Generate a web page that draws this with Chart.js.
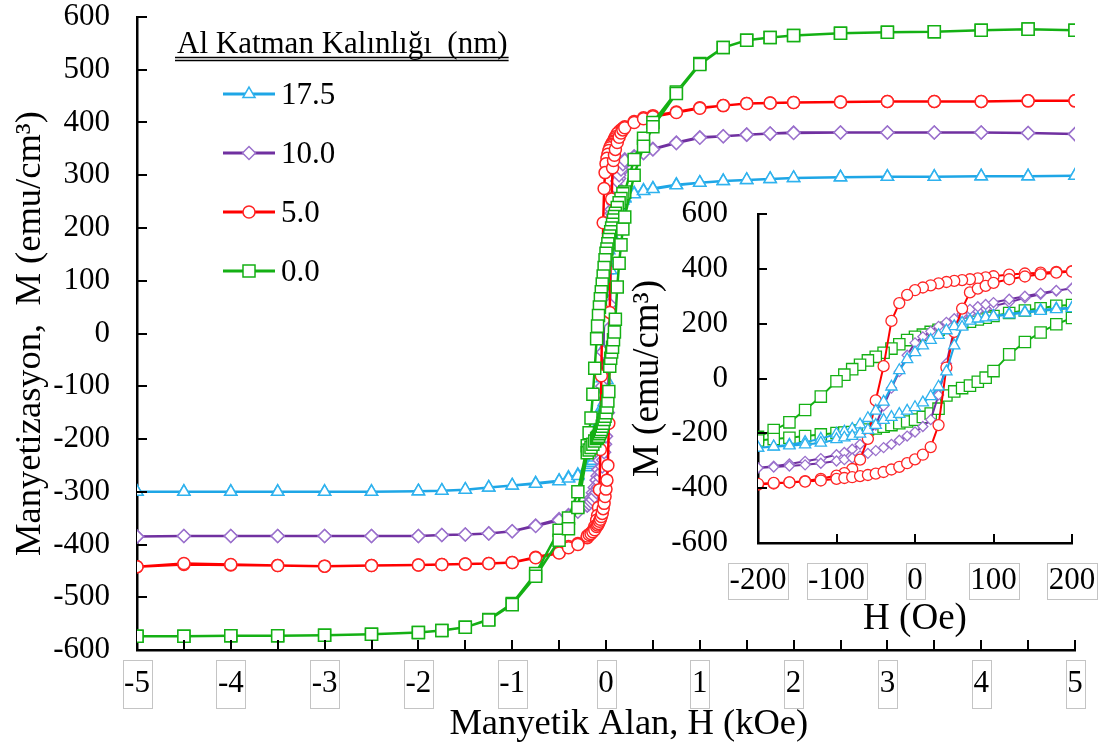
<!DOCTYPE html>
<html>
<head>
    <title>Manyetizasyon - Al Katman Kalınlığı</title>
    <meta charset="UTF-8">
    <script src="https://cdn.jsdelivr.net/npm/chart.js@4.4.1/dist/chart.umd.min.js"></script>
    <style>
        html, body { margin: 0; padding: 0; background: #fff; }
        #wrap { position: relative; width: 1100px; height: 752px; }
        #mainChart { position: absolute; left: 0; top: 0; }
        #insetChart { position: absolute; left: 620px; top: 195px; }
    </style>
</head>
<body>
<div id="wrap">
    <canvas id="mainChart" width="1100" height="752"></canvas>
    <canvas id="insetChart" width="480" height="450"></canvas>
</div>

<script>
    // legend labels (Al layer thickness, nm)
    const seriesNames = ['17.5', '10.0', '5.0', '0.0'];
    const legendTitle = 'Al Katman Kalınlığı  (nm)';

    // main loop, field in kOe (outside the +-0.2 kOe zone shown in the inset)
    const hOuter = [5, 4.5, 4, 3.5, 3, 2.5, 2, 1.75, 1.5, 1.25, 1, 0.75, 0.5, 0.4, 0.3,
        -0.3, -0.4, -0.5, -0.75, -1, -1.25, -1.5, -1.75, -2, -2.5, -3, -3.5, -4, -4.5, -5];

    const outerDesc17 = [299, 298, 298, 297, 297, 296, 295, 293, 291, 289, 286, 282, 275, 271, 266,
        -268, -273, -279, -284, -288, -292, -296, -298, -299, -300, -300, -300, -300, -300, -300];
    const outerAsc17 = [299, 298, 298, 297, 297, 296, 295, 293, 291, 289, 286, 281, 274, 270, 264,
        -270, -275, -280, -285, -288, -292, -296, -298, -299, -300, -300, -300, -300, -300, -300];

    const outerDesc10 = [378, 380, 381, 381, 381, 381, 381, 379, 377, 374, 372, 362, 350, 343, 336,
        -336, -344, -352, -364, -375, -379, -381, -382, -384, -384, -384, -384, -384, -384, -385];
    const outerAsc10 = [378, 380, 381, 381, 381, 381, 380, 379, 377, 374, 371, 361, 349, 342, 334,
        -338, -346, -354, -365, -375, -379, -381, -382, -384, -384, -384, -384, -384, -384, -385];

    const outerDesc5 = [441, 441, 440, 440, 440, 439, 438, 437, 436, 432, 428, 420, 413, 409, 402,
        -398, -404, -415, -424, -434, -436, -437, -438, -439, -440, -441, -440, -439, -438, -442];
    const outerAsc5 = [441, 441, 440, 440, 440, 439, 438, 437, 436, 432, 427, 419, 411, 407, 400,
        -400, -406, -416, -425, -434, -436, -437, -438, -439, -440, -441, -440, -438, -436, -442];

    const outerDesc0 = [575, 577, 575, 572, 571, 569, 565, 561, 556, 542, 512, 458, 400, 370, 330,
        -300, -350, -373, -455, -512, -542, -557, -563, -567, -570, -572, -573, -573, -574, -574];
    const outerAsc0 = [575, 577, 575, 572, 571, 569, 565, 561, 556, 542, 510, 455, 392, 355, 300,
        -330, -370, -392, -460, -514, -543, -557, -563, -567, -570, -572, -573, -573, -574, -574];

    // low field loop, field in Oe
    const hInset = [200, 180, 160, 140, 120, 100, 90, 80, 70, 60, 50, 40, 30, 20, 10, 0,
        -10, -20, -30, -40, -50, -60, -70, -80, -90, -100, -120, -140, -160, -180, -200];

    const insetDesc17 = [258, 255, 250, 243, 236, 228, 224, 219, 212, 203, 190, 175, 158, 140, 120, 95,
        70, 30, -30, -85, -118, -145, -168, -184, -194, -202, -220, -232, -242, -248, -253];
    const insetAsc17 = [256, 252, 246, 240, 233, 226, 222, 218, 210, 188, 120, 25, -30, -65, -88, -105,
        -118, -130, -141, -152, -170, -188, -202, -210, -216, -222, -235, -241, -245, -249, -253];

    const insetDesc10 = [330, 319, 307, 294, 278, 264, 255, 246, 237, 228, 218, 205, 190, 172, 152, 130,
        85, 25, -35, -100, -170, -215, -240, -258, -270, -278, -292, -302, -312, -320, -326];
    const insetAsc10 = [328, 321, 311, 300, 289, 277, 270, 262, 252, 235, 180, 55, -60, -150, -175, -195,
        -210, -225, -240, -252, -263, -273, -282, -290, -296, -301, -309, -315, -319, -323, -326];

    const insetDesc5 = [392, 389, 386, 383, 379, 373, 369, 365, 362, 359, 356, 352, 347, 340, 332, 322,
        305, 275, 210, 45, -80, -220, -296, -330, -345, -354, -366, -374, -379, -383, -387];
    const insetAsc5 = [390, 386, 380, 372, 362, 349, 338, 328, 314, 255, 170, 40, -170, -250, -278, -295,
        -309, -322, -332, -341, -347, -352, -356, -360, -363, -366, -372, -376, -379, -381, -384];

    const insetDesc0 = [268, 265, 256, 248, 239, 228, 222, 215, 207, 200, 193, 185, 178, 170, 160, 152,
        140, 125, 109, 94, 79, 66, 50, 34, 14, -10, -66, -115, -160, -188, -213];
    const insetAsc0 = [221, 198, 168, 133, 88, 27, 3, -12, -26, -35, -47, -62, -110, -128, -140, -150,
        -157, -163, -170, -176, -182, -186, -190, -195, -197, -199, -204, -210, -216, -221, -226];

    const SERIF = '"Liberation Serif", "Times New Roman", serif';

    const looks = [
        { line: '#1ea6e6', point: '#2fb2ee', shape: 'triangle', rMain: 7, rInset: 6.5 },
        { line: '#7030a0', point: '#9a70cc', shape: 'rectRot', rMain: 6.5, rInset: 5 },
        { line: '#ff0000', point: '#ff2424', shape: 'circle', rMain: 6, rInset: 5.5 },
        { line: '#14b014', point: '#14b014', shape: 'rect', rMain: 8.5, rInset: 8 }
    ];

    const outer = [[outerDesc17, outerAsc17], [outerDesc10, outerAsc10], [outerDesc5, outerAsc5], [outerDesc0, outerAsc0]];
    const inner = [[insetDesc17, insetAsc17], [insetDesc10, insetAsc10], [insetDesc5, insetAsc5], [insetDesc0, insetAsc0]];

    // full loop for the main plot: down from +5 kOe to -5 kOe, then back up
    function mainLoop(i) {
        const [oD, oA] = outer[i];
        const [iD, iA] = inner[i];
        const pts = [];
        for (let k = 0; k < 15; k++) pts.push({ x: hOuter[k], y: oD[k] });
        hInset.forEach((h, k) => pts.push({ x: h / 1000, y: iD[k] }));
        for (let k = 15; k < 30; k++) pts.push({ x: hOuter[k], y: oD[k] });
        for (let k = 29; k >= 15; k--) pts.push({ x: hOuter[k], y: oA[k] });
        for (let k = hInset.length - 1; k >= 0; k--) pts.push({ x: hInset[k] / 1000, y: iA[k] });
        for (let k = 14; k >= 0; k--) pts.push({ x: hOuter[k], y: oA[k] });
        return pts;
    }

    function insetLoop(i) {
        const [iD, iA] = inner[i];
        const pts = [];
        hInset.forEach((h, k) => pts.push({ x: h, y: iD[k] }));
        for (let k = hInset.length - 1; k >= 0; k--) pts.push({ x: hInset[k], y: iA[k] });
        return pts;
    }

    // inner tick marks + grey boxes round the x tick labels
    const axisDecor = {
        id: 'axisDecor',
        afterDraw(chart, args, o) {
            const { ctx, chartArea: a } = chart;
            const xs = chart.scales.x, ys = chart.scales.y;
            ctx.save();
            ctx.strokeStyle = '#000';
            ctx.lineWidth = 2;
            ctx.beginPath();
            o.xMarks.forEach(v => {
                const p = Math.round(xs.getPixelForValue(v));
                ctx.moveTo(p, a.bottom);
                ctx.lineTo(p, a.bottom - o.tickLen);
            });
            o.yMarks.forEach(v => {
                const p = Math.round(ys.getPixelForValue(v));
                ctx.moveTo(a.left, p);
                ctx.lineTo(a.left + o.tickLen, p);
            });
            ctx.stroke();

            ctx.font = o.tickSize + 'px ' + SERIF;
            ctx.strokeStyle = '#c4c4c4';
            ctx.lineWidth = 1;
            xs.ticks.forEach(t => {
                const p = xs.getPixelForValue(t.value);
                const w = Math.round(ctx.measureText(String(t.label)).width + o.boxPad);
                ctx.strokeRect(Math.round(p - w / 2) + 0.5, a.bottom + o.boxTop + 0.5, w, o.boxH);
            });
            ctx.restore();
        }
    };

    const thicknessLegend = {
        id: 'thicknessLegend',
        afterDraw(chart) {
            const ctx = chart.ctx;
            ctx.save();
            ctx.font = '31px ' + SERIF;
            ctx.fillStyle = '#000';
            ctx.textBaseline = 'alphabetic';
            ctx.fillText(legendTitle, 177, 53);
            const w = ctx.measureText(legendTitle).width;
            ctx.strokeStyle = '#000';
            ctx.lineWidth = 1.3;
            ctx.beginPath();
            ctx.moveTo(175, 57.5); ctx.lineTo(178 + w, 57.5);
            ctx.moveTo(175, 60.5); ctx.lineTo(178 + w, 60.5);
            ctx.stroke();

            ctx.font = '31px ' + SERIF;
            ctx.textBaseline = 'middle';
            seriesNames.forEach((name, i) => {
                const y = 94 + i * 59;
                const lk = looks[i];
                ctx.strokeStyle = lk.line;
                ctx.lineWidth = 3;
                ctx.beginPath();
                ctx.moveTo(223, y); ctx.lineTo(275, y);
                ctx.stroke();
                ctx.fillStyle = '#fff';
                ctx.strokeStyle = lk.point;
                ctx.lineWidth = 1.5;
                Chart.helpers.drawPoint(ctx, { pointStyle: lk.shape, radius: lk.rMain, borderWidth: 1.5, rotation: 0 }, 249, y);
                ctx.fillStyle = '#000';
                ctx.fillText(name, 281, y + 2);
            });
            ctx.restore();
        }
    };

    function axisOpts(min, max, step, padding, tickSize, titleText, titleSize, titlePad, fitFn) {
        return {
            type: 'linear',
            min: min,
            max: max,
            grid: { display: false, drawTicks: false },
            border: { display: true, color: '#000', width: 2.5 },
            ticks: {
                stepSize: step,
                padding: padding,
                color: '#000',
                font: { family: SERIF, size: tickSize, lineHeight: 1 }
            },
            title: {
                display: true,
                text: titleText,
                color: '#000',
                font: { family: SERIF, size: titleSize, lineHeight: 1 },
                padding: titlePad
            },
            afterFit: fitFn
        };
    }

    // fixed axis boxes; drop the label overhang padding so the plot area stays where it is
    const fixX = h => s => { s.height = h; s.paddingLeft = 0; s.paddingRight = 0; s.paddingTop = 0; s.paddingBottom = 0; };
    const fixY = w => s => { s.width = w; s.paddingLeft = 0; s.paddingRight = 0; s.paddingTop = 0; s.paddingBottom = 0; };

    // main chart
    new Chart(document.getElementById('mainChart').getContext('2d'), {
        type: 'scatter',
        data: {
            datasets: seriesNames.map((name, i) => ({
                label: name,
                data: mainLoop(i),
                showLine: true,
                borderColor: looks[i].line,
                borderWidth: 2.5,
                pointStyle: looks[i].shape,
                pointRadius: looks[i].rMain,
                pointBorderColor: looks[i].point,
                pointBackgroundColor: '#fff',
                pointBorderWidth: 1.5,
                order: 4 - i
            }))
        },
        options: {
            responsive: false,
            animation: false,
            devicePixelRatio: 1,
            layout: { padding: { left: 0, right: 25, top: 17, bottom: 0 } },
            plugins: {
                legend: { display: false },
                tooltip: { enabled: false },
                axisDecor: {
                    xMarks: [-4.5, -4, -3.5, -3, -2.5, -2, -1.5, -1, -0.5, 0, 0.5, 1, 1.5, 2, 2.5, 3, 3.5, 4, 4.5, 5],
                    yMarks: [-500, -400, -300, -200, -100, 0, 100, 200, 300, 400, 500, 600],
                    tickLen: 10, tickSize: 31, boxPad: 3, boxTop: 10, boxH: 48
                }
            },
            scales: {
                x: axisOpts(-5, 5, 1, 18, 31, '     Manyetik Alan, H (kOe)', 36.5, { top: 0, bottom: 9 }, fixX(102)),
                y: axisOpts(-600, 600, 100, 27, 31, 'Manyetizasyon,  M (emu/cm³)', 36.5, { top: 12, bottom: 0 }, fixY(137))
            }
        },
        plugins: [axisDecor, thicknessLegend]
    });

    // inset chart (low field)
    const insetOrder = [1, 3, 2, 4];
    new Chart(document.getElementById('insetChart').getContext('2d'), {
        type: 'scatter',
        data: {
            datasets: seriesNames.map((name, i) => ({
                label: name,
                data: insetLoop(i),
                showLine: true,
                borderColor: looks[i].line,
                borderWidth: 2,
                pointStyle: looks[i].shape,
                pointRadius: looks[i].rInset,
                pointBorderColor: looks[i].point,
                pointBackgroundColor: '#fff',
                pointBorderWidth: 1.3,
                order: insetOrder[i]
            }))
        },
        options: {
            responsive: false,
            animation: false,
            devicePixelRatio: 1,
            layout: { padding: { left: 0, right: 28, top: 19, bottom: 0 } },
            plugins: {
                legend: { display: false },
                tooltip: { enabled: false },
                axisDecor: {
                    xMarks: [-100, 0, 100, 200],
                    yMarks: [-400, -200, 0, 200, 400, 600],
                    tickLen: 9, tickSize: 31, boxPad: 3, boxTop: 20, boxH: 36
                }
            },
            scales: {
                x: axisOpts(-200, 200, 100, 22, 31, 'H (Oe)', 37, { top: 0, bottom: 7 }, fixX(102)),
                y: axisOpts(-600, 600, 200, 30, 31, 'M (emu/cm³)', 37, { top: 10, bottom: 0 }, fixY(138))
            }
        },
        plugins: [axisDecor]
    });
</script>
</body>
</html>
